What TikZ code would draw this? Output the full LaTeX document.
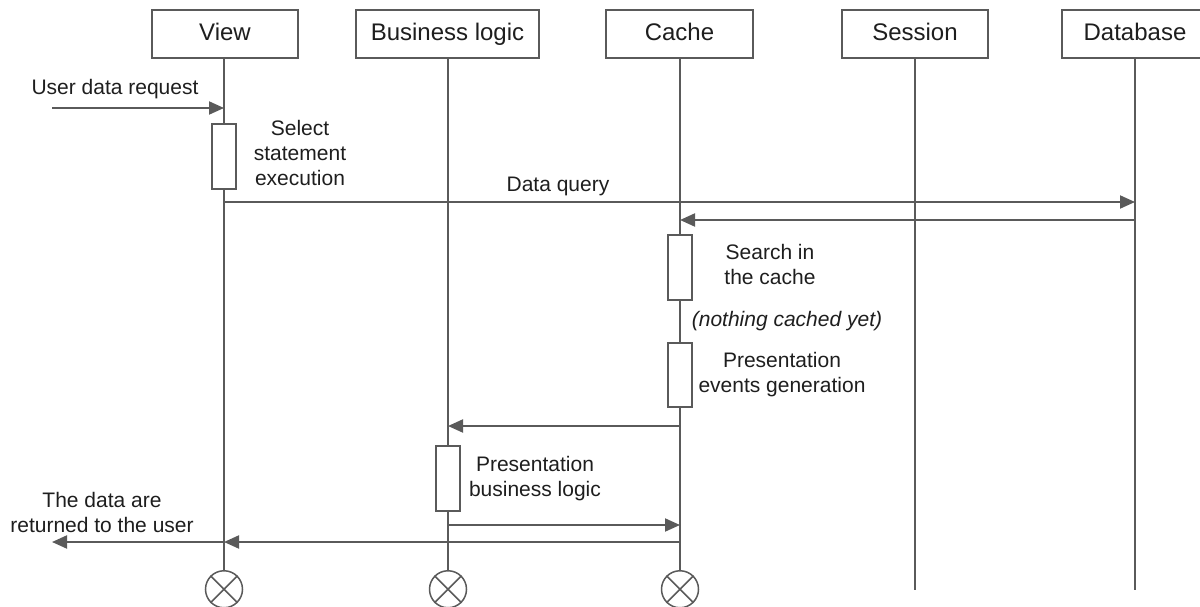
\documentclass[tikz,border=0pt]{standalone}
\usepackage{fontspec}
\setmainfont{Liberation Sans}
\usetikzlibrary{arrows.meta}
\definecolor{ink}{HTML}{5A5A5A}
\definecolor{txt}{HTML}{1E1E1E}
\begin{document}
\begin{tikzpicture}[x=1pt,y=-1pt,
  head/.style={draw=ink, line width=2.4pt, fill=white, minimum height=48pt,
    inner sep=0pt, text height=17pt, text depth=3pt,
    font=\fontsize{24}{28}\selectfont, text=txt},
  life/.style={draw=ink, line width=2.2pt},
  act/.style={draw=ink, line width=1.6pt, fill=white, minimum width=24pt, inner sep=0pt},
  msg/.style={draw=ink, line width=2pt, -{Triangle[length=15pt,width=13pt]}},
  lbl/.style={font=\fontsize{21}{25}\selectfont, text=txt, align=center, inner sep=0pt, anchor=north},
  endmark/.style={circle, draw=ink, line width=1.5pt, minimum size=37pt, inner sep=0pt},
]
\useasboundingbox (0,0) rectangle (1200,607);

% object headers
\node[head, minimum width=146pt] (view) at (225,34)   {View};
\node[head, minimum width=183pt] (bl)   at (447.5,34) {Business logic};
\node[head, minimum width=147pt] (cache) at (679.5,34) {Cache};
\node[head, minimum width=146pt] (sess) at (915,34)   {Session};
\node[head, minimum width=146pt] (db)   at (1135,34)  {Database};

% lifeline ends
\coordinate (viewend)  at (224,570);
\coordinate (blend)    at (448,570);
\coordinate (cacheend) at (680,570);
\coordinate (sessend)  at (915,590);
\coordinate (dbend)    at (1135,590);

\draw[life] (view.south -| viewend) -- (viewend);
\draw[life] (bl.south -| blend) -- (blend);
\draw[life] (cache.south -| cacheend) -- (cacheend);
\draw[life] (sess.south -| sessend) -- (sessend);
\draw[life] (db.south -| dbend) -- (dbend);

% destruction marks
\foreach \n in {viewend,blend,cacheend}{
  \node[endmark, anchor=north] (x\n) at (\n) {};
  \draw[ink, line width=1.5pt] (x\n.45) -- (x\n.225) (x\n.135) -- (x\n.315);
}

% message end points
\coordinate (user)   at (52,108);
\coordinate (v1)     at (224,108);
\coordinate (v2)     at (224,202);
\coordinate (d2)     at (1135,202);
\coordinate (d3)     at (1135,220);
\coordinate (c3)     at (680,220);
\coordinate (c4)     at (680,426);
\coordinate (b4)     at (448,426);
\coordinate (b5)     at (448,525);
\coordinate (c5)     at (680,525);
\coordinate (c6)     at (680,542);
\coordinate (v6)     at (224,542);
\coordinate (out)    at (52,542);

% activations
\node[act, minimum height=65pt] (actview)  at (224,156.5) {};
\node[act, minimum height=65pt] (actc1)    at (680,267.5) {};
\node[act, minimum height=64pt] (actc2)    at (680,375)   {};
\node[act, minimum height=65pt] (actbl)    at (448,478.5) {};

% messages
\draw[msg] (user) -- (v1);
\draw[msg] (v2) -- (d2);
\draw[msg] (d3) -- (c3);
\draw[msg] (c4) -- (b4);
\draw[msg] (b5) -- (c5);
\draw[msg] (c6) -- (v6);
\draw[msg] (v6) -- (out);

% labels
\node[lbl, anchor=base] (l1) at (115,95) {User data request};
\node[lbl] (l2) at (300,120.5) {Select\\statement\\execution};
\node[lbl, anchor=base] (l3) at (558,192) {Data query};
\node[lbl] (l4) at (770,244.5) {Search in\\the cache};
\node[lbl, anchor=base, font=\fontsize{21}{25}\selectfont\itshape] (l5) at (787,326) {(nothing cached yet)};
\node[lbl] (l6) at (782,352.5) {Presentation\\events generation};
\node[lbl] (l7) at (535,456.5) {Presentation\\business logic};
\node[lbl] (l8) at (102,492.5) {The data are\\returned to the user};
\end{tikzpicture}
\end{document}
